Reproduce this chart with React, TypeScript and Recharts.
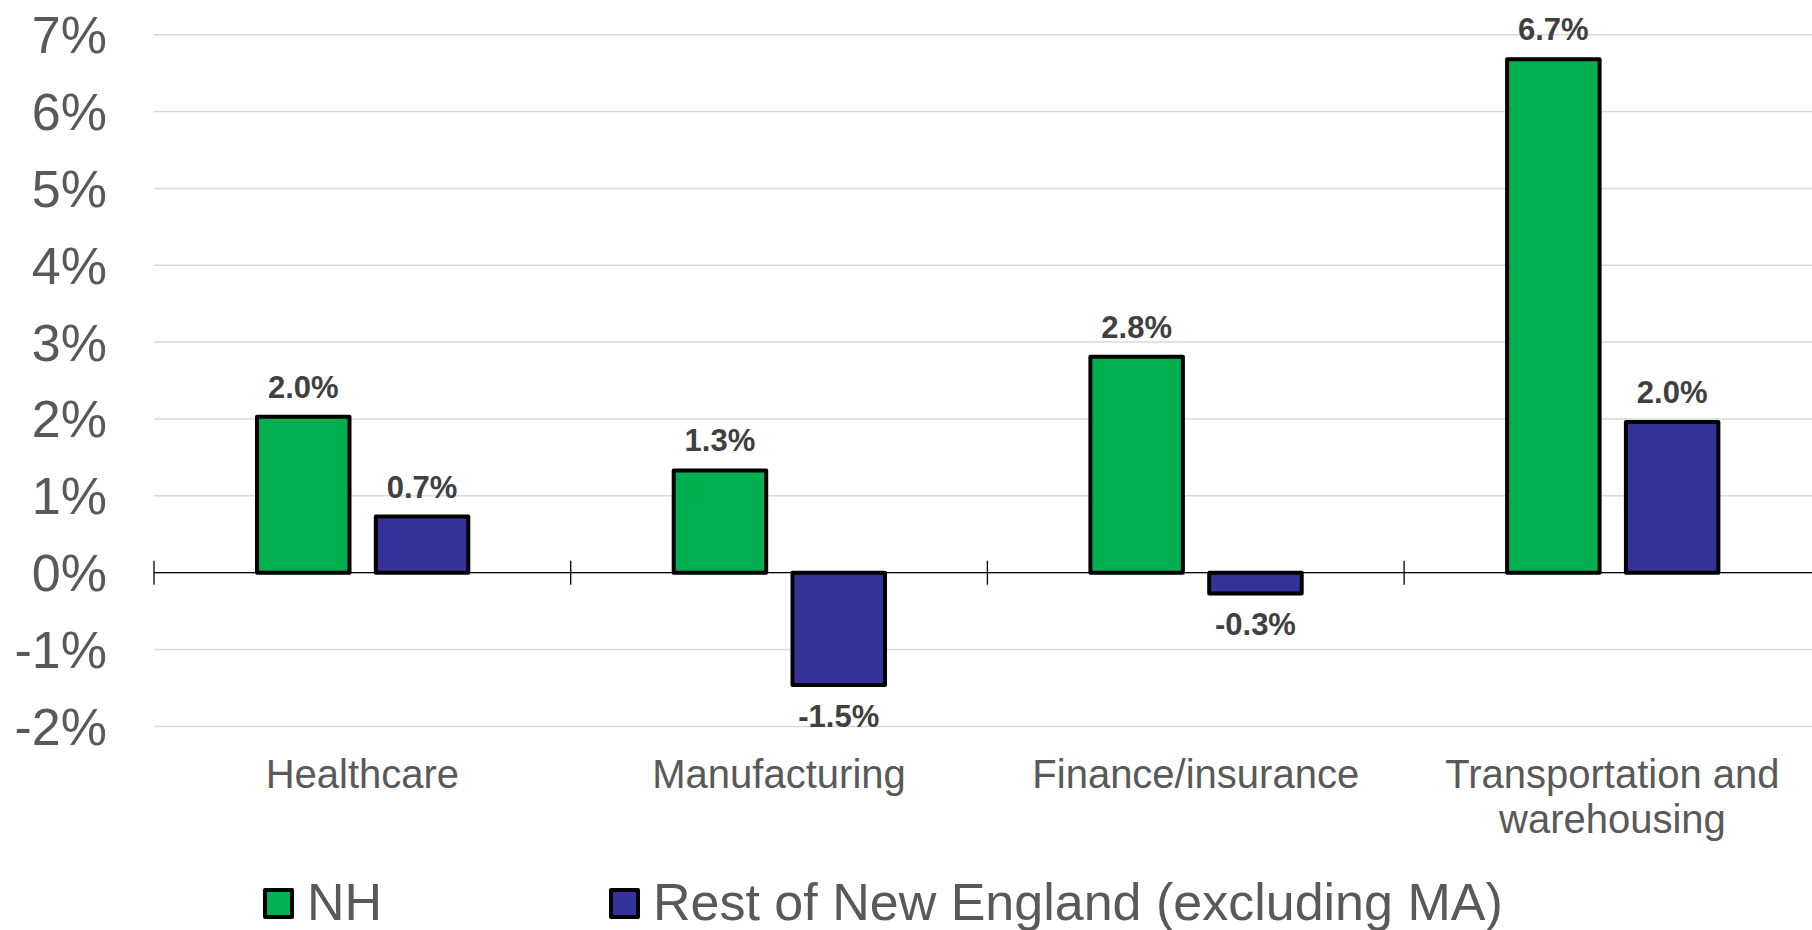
import React from "react";
import {
  BarChart,
  Bar,
  XAxis,
  YAxis,
  CartesianGrid,
  ReferenceLine,
  ReferenceArea,
  LabelList,
  Legend,
} from "recharts";

const categories = ["Healthcare", "Manufacturing", "Finance/insurance", "Transportation and warehousing"];
const categoryLines = [["Healthcare"], ["Manufacturing"], ["Finance/insurance"], ["Transportation and", "warehousing"]];
const nhValues = [2.03, 1.33, 2.81, 6.68];
const restValues = [0.73, -1.46, -0.27, 1.96];
const yTicks = [-2, -1, 0, 1, 2, 3, 4, 5, 6, 7];
const seriesNames = ["NH", "Rest of New England (excluding MA)"];
const seriesColors = ["#00B050", "#333399"];

const data = categories.map((c, i) => ({ name: c, nh: nhValues[i], rest: restValues[i] }));

const FONT = "'Liberation Sans', Arial, Helvetica, sans-serif";
const TICK_HALF = 0.156;

const fmt = (v: number) => `${v.toFixed(1)}%`;

const renderLabel = (props: any) => {
  const vb = props.viewBox && props.viewBox.width !== undefined ? props.viewBox : props;
  const x = Number(vb.x);
  const y = Number(vb.y);
  const w = Number(vb.width);
  const h = Number(vb.height);
  const value = Number(props.value);
  const top = Math.min(y, y + h);
  const bottom = Math.max(y, y + h);
  const cx = x + w / 2;
  const ty = value >= 0 ? top - 19 : bottom + 42;
  return (
    <text
      x={cx}
      y={ty}
      textAnchor="middle"
      fontSize={31}
      fontWeight="bold"
      fontFamily={FONT}
      fill="#404040"
    >
      {fmt(value)}
    </text>
  );
};

const CategoryTick = (props: any) => {
  const { x, y, payload } = props;
  const idx = categories.indexOf(payload.value);
  const lines = idx >= 0 ? categoryLines[idx] : [String(payload.value)];
  return (
    <text x={x} y={y + 62} textAnchor="middle" fontSize={40} fontFamily={FONT} fill="#595959">
      {lines.map((l, i) => (
        <tspan key={i} x={x} dy={i === 0 ? 0 : 44.5}>
          {l}
        </tspan>
      ))}
    </text>
  );
};

// Draws the category-boundary tick marks crossing the zero line, using the band rect from the scale.
const makeBoundaryTick = (isLast: boolean) => (props: any) => {
  const x = Number(props.x);
  const y = Number(props.y);
  const w = Number(props.width);
  const h = Number(props.height);
  const y0 = Math.min(y, y + h);
  const y1 = Math.max(y, y + h);
  return (
    <g>
      <line x1={x} x2={x} y1={y0} y2={y1} stroke="#000" strokeWidth={1.3} />
      {isLast && <line x1={x + w} x2={x + w} y1={y0} y2={y1} stroke="#000" strokeWidth={1.3} />}
    </g>
  );
};

const legendLefts = [263, 609];

const LegendContent = () => (
  <div style={{ position: "relative", width: 1812, height: 60, fontFamily: FONT }}>
    {seriesNames.map((n, i) => (
      <div
        key={n}
        style={{
          position: "absolute",
          left: legendLefts[i],
          top: 0,
          display: "flex",
          alignItems: "flex-start",
          whiteSpace: "nowrap",
        }}
      >
        <div
          style={{
            boxSizing: "border-box",
            width: 31,
            height: 31,
            marginTop: 15.5,
            border: "4px solid #000",
            borderRadius: 2,
            background: seriesColors[i],
          }}
        />
        <span style={{ marginLeft: 13, fontSize: 52, lineHeight: "60px", color: "#595959" }}>{n}</span>
      </div>
    ))}
  </div>
);

export default function App() {
  return (
    <div
      style={{
        position: "absolute",
        left: 0,
        top: 0,
        width: 1812,
        height: 930,
        overflow: "hidden",
        background: "#fff",
      }}
    >
      <BarChart
        width={1822}
        height={930}
        data={data}
        margin={{ top: 34.7, right: 1.2, left: 0, bottom: 0 }}
        barSize={92.5}
        barGap={26.3}
      >
        <CartesianGrid vertical={false} stroke="#D9D9D9" strokeWidth={1.5} />
        <XAxis
          dataKey="name"
          height={203.6}
          axisLine={false}
          tickLine={false}
          tickSize={0}
          tickMargin={0}
          interval={0}
          tick={<CategoryTick />}
        />
        <YAxis
          domain={[-2, 7]}
          ticks={yTicks}
          interval={0}
          width={154}
          axisLine={false}
          tickLine={false}
          tickSize={0}
          tickMargin={47}
          tickFormatter={(v: number) => `${v}%`}
          tick={{ fontSize: 52, fill: "#595959", fontFamily: FONT }}
          allowDataOverflow
        />
        <ReferenceLine y={0} stroke="#000" strokeWidth={1.3} />
        {categories.map((c, i) => (
          <ReferenceArea
            key={c}
            x1={c}
            x2={c}
            y1={-TICK_HALF}
            y2={TICK_HALF}
            fill="none"
            stroke="none"
            ifOverflow="visible"
            shape={makeBoundaryTick(i === categories.length - 1)}
          />
        ))}
        <Bar dataKey="nh" name={seriesNames[0]} fill={seriesColors[0]} stroke="#000" strokeWidth={4} strokeLinejoin="round" isAnimationActive={false}>
          <LabelList dataKey="nh" content={renderLabel} />
        </Bar>
        <Bar dataKey="rest" name={seriesNames[1]} fill={seriesColors[1]} stroke="#000" strokeWidth={4} strokeLinejoin="round" isAnimationActive={false}>
          <LabelList dataKey="rest" content={renderLabel} />
        </Bar>
        <Legend
          layout="horizontal"
          verticalAlign="middle"
          align="center"
          content={<LegendContent />}
          wrapperStyle={{ top: 872, left: 0, width: 1812, height: 60 }}
        />
      </BarChart>
    </div>
  );
}
